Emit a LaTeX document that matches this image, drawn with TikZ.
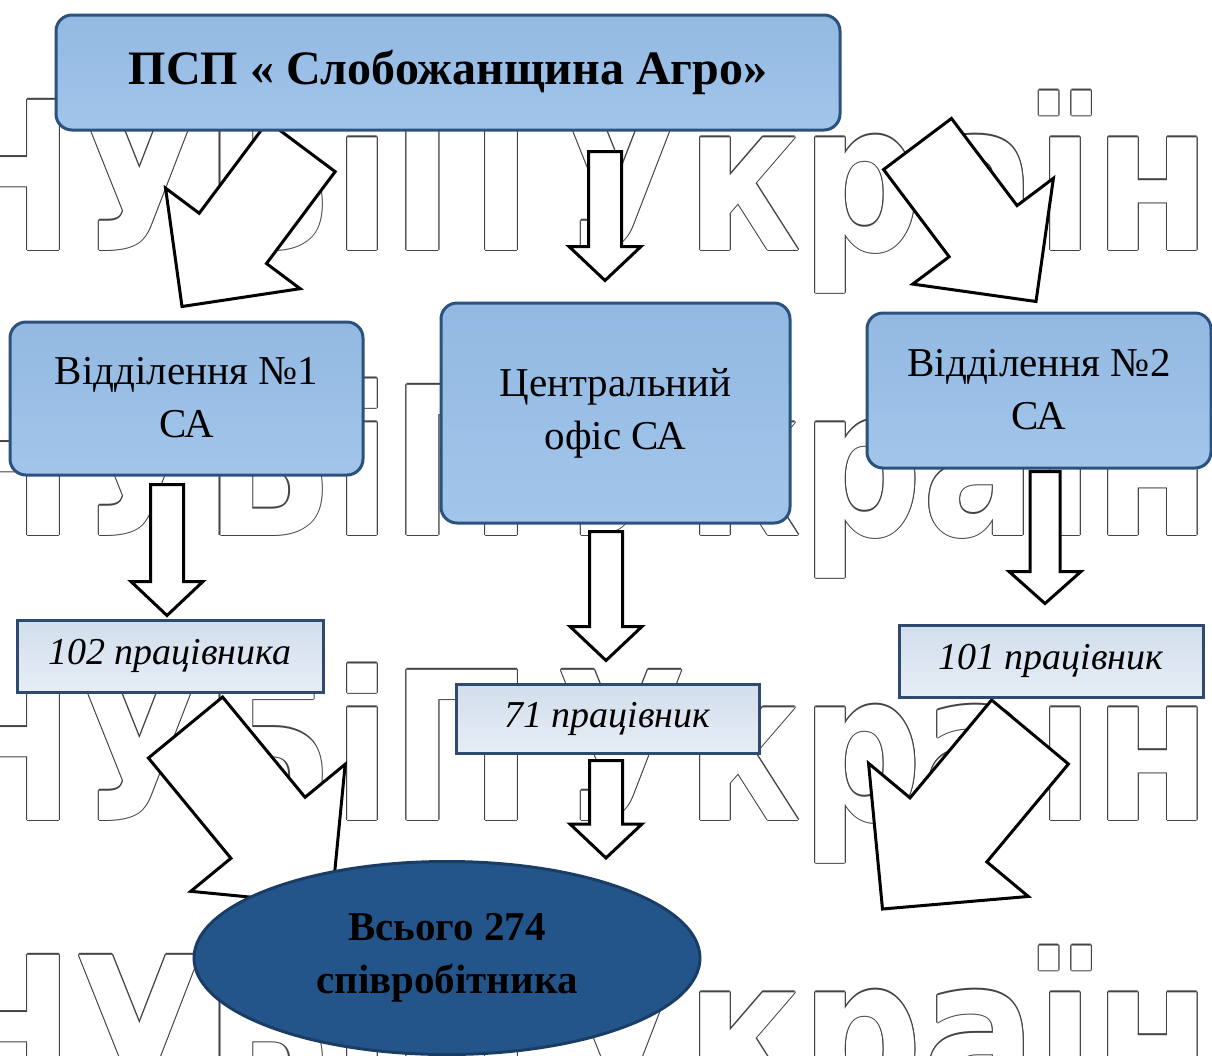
\documentclass[tikz,border=0pt]{standalone}
\usepackage{fontspec}
\setmainfont{Liberation Serif}
\newfontfamily\wmfont[FakeStretch=0.82, WordSpace=0.4]{DejaVu Sans}
\usepackage{xcolor}
\usepackage{tikz}
\usetikzlibrary{calc, shapes.geometric, positioning, backgrounds}

\definecolor{boxfill}{HTML}{A2C5EA}
\definecolor{boxfilltop}{HTML}{93B9E2}
\definecolor{boxedge}{HTML}{2B527E}
\definecolor{labfill}{HTML}{E6EDF6}
\definecolor{labfilltop}{HTML}{D2DEEC}
\definecolor{labedge}{HTML}{2E4A6E}
\definecolor{totalfill}{HTML}{24558A}
\definecolor{totaledge}{HTML}{1A3D66}
\definecolor{wmline}{HTML}{444444}

% block arrow: from, to, half shaft width, half head width, head length
\newcommand{\blockarrow}[5]{%
  \coordinate (neck) at ($(#2)!#5!(#1)$);
  \draw[block_arrow] ($(#1)!#3!90:(#2)$) -- ($(neck)!#3!90:(#2)$) -- ($(neck)!#4!90:(#2)$) -- (#2)
    -- ($(neck)!#4!-90:(#2)$) -- ($(neck)!#3!-90:(#2)$) -- ($(#1)!#3!-90:(#2)$) -- cycle;
}

\begin{document}
\begin{tikzpicture}[x=0.5pt, y=-0.5pt]
    % Block styles
    \tikzstyle{unit} = [rectangle, rounded corners=8pt, draw=boxedge, line width=1.5pt, top color=boxfilltop, bottom color=boxfill, align=center, font=\fontsize{20.5}{26.5}\selectfont]
    \tikzstyle{headcount} = [rectangle, draw=labedge, line width=1.5pt, top color=labfilltop, bottom color=labfill, font=\fontsize{19}{23}\selectfont\itshape]
    \tikzstyle{total_oval} = [ellipse, draw=totaledge, line width=1.5pt, fill=totalfill, align=center, inner sep=0pt, font=\fontsize{20.5}{26.5}\selectfont\bfseries]
    \tikzstyle{block_arrow} = [draw=black, line width=1.5pt, fill=white, line join=miter]
    \tikzstyle{watermark} = [anchor=base west, inner sep=0pt, font=\wmfont\bfseries\fontsize{103}{103}\selectfont]
    \useasboundingbox (0,0) rectangle (1212,1056);
    % Units
    \node[unit, minimum width=392pt, minimum height=57.5pt] (title) at (448,72.5) {\fontsize{24}{29}\selectfont\bfseries\raisebox{4pt}{ПСП « Слобожанщина Агро»}};
    \node[unit, minimum width=176.5pt, minimum height=76.5pt] (div_one) at (186.5,398.5) {\raisebox{1.5pt}{Відділення №1}\\\raisebox{1.5pt}{СА}};
    \node[unit, minimum width=174.5pt, minimum height=110pt] (office) at (615.5,413) {Центральний\\офіс СА};
    \node[unit, minimum width=172pt, minimum height=77.5pt] (div_two) at (1039,390.5) {\raisebox{1.5pt}{Відділення №2}\\\raisebox{1.5pt}{СА}};
    % Staff counts
    \node[headcount, minimum width=153pt, minimum height=36pt] (staff_one) at (170,656) {102 працівника};
    \node[headcount, minimum width=151.5pt, minimum height=34.5pt] (staff_office) at (607.5,718.5) {71 працівник};
    \node[headcount, minimum width=152pt, minimum height=36pt] (staff_two) at (1051,661) {101 працівник};
    \node[total_oval, minimum width=253pt, minimum height=96.5pt] (total) at (447,958) {Всього 274\\співробітника};
    % Arrows end points
    \coordinate (a1_from) at ([xshift=-9.75pt,yshift=-4pt]div_one.south);
    \coordinate (a1_to) at ([xshift=-1.5pt,yshift=1.5pt]staff_one.north);
    \coordinate (a2_from) at ([xshift=78.5pt,yshift=-10pt]title.south);
    \coordinate (a2_to) at ([xshift=-5.25pt,yshift=10.5pt]office.north);
    \coordinate (a3_from) at ([xshift=-4.75pt,yshift=-3.5pt]office.south);
    \coordinate (a3_to) at ([xshift=-0.75pt,yshift=11pt]staff_office.north);
    \coordinate (a4_from) at ([xshift=3pt,yshift=-1pt]div_two.south);
    \coordinate (a4_to) at ([xshift=-3pt,yshift=10pt]staff_two.north);
    \coordinate (a5_from) at ([xshift=-0.75pt,yshift=-3pt]staff_office.south);
    \coordinate (a5_to) at ([xshift=79.5pt,yshift=1pt]total.north);
    \coordinate (b1_from) at ([xshift=-73.25pt,yshift=-7.5pt]title.south);
    \coordinate (b1_to) at ([xshift=-2.25pt,yshift=7pt]div_one.north);
    \coordinate (b2_from) at ([xshift=38pt,yshift=-6.25pt]title.south east);
    \coordinate (b2_to) at ([xshift=-1.5pt,yshift=5pt]div_two.north);
    \coordinate (b3_from) at ([xshift=7.75pt,yshift=-17pt]staff_one.south);
    \coordinate (b3_to) at ([xshift=69.5pt,yshift=26.5pt]total.west);
    \coordinate (b4_from) at ([xshift=-10.5pt,yshift=-16.75pt]staff_two.south);
    \coordinate (b4_to) at ([xshift=90.5pt,yshift=24.5pt]total.east);
    \begin{pgfonlayer}{background}
        \fill[white] (0,0) rectangle (1212,1056);
        % Watermark
        \foreach \ybase [count=\row] in {250,535,820,1105} {
            \foreach \ang in {0,45,...,315}
                \node[watermark, text=wmline, xshift={0.6pt*cos(\ang)}, yshift={0.6pt*sin(\ang)}] (wm_\row_\ang) at (-67,\ybase) {НУБіП України};
            \node[watermark, text=white] (wm_\row) at (-67,\ybase) {НУБіП України};
        }
        % Connections
        \blockarrow{a1_from}{a1_to}{8.25pt}{18pt}{17pt}
        \blockarrow{a2_from}{a2_to}{8.25pt}{18pt}{17pt}
        \blockarrow{a3_from}{a3_to}{8.25pt}{18pt}{17pt}
        \blockarrow{a4_from}{a4_to}{7.5pt}{18pt}{16pt}
        \blockarrow{a5_from}{a5_to}{8.25pt}{18pt}{17pt}
        \blockarrow{b1_from}{b1_to}{21pt}{42pt}{42.5pt}
        \blockarrow{b2_from}{b2_to}{21.25pt}{44pt}{44pt}
        \blockarrow{b3_from}{b3_to}{24pt}{50pt}{50pt}
        \blockarrow{b4_from}{b4_to}{25pt}{52pt}{51.5pt}
    \end{pgfonlayer}
\end{tikzpicture}
\end{document}
